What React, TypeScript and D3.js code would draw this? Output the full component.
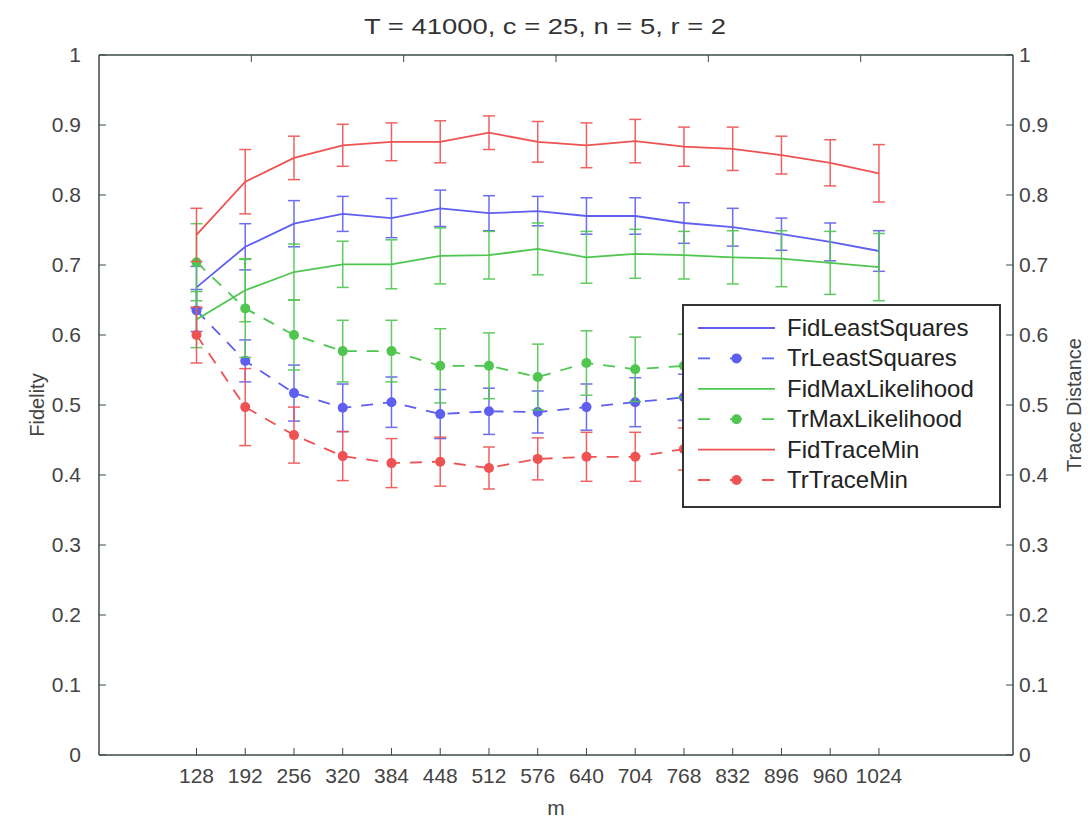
import React from "react";
import * as d3 from "d3";

const mValues = [128, 192, 256, 320, 384, 448, 512, 576, 640, 704, 768, 832, 896, 960, 1024];
const topTicks = [200, 400, 600, 800, 1000];
const yTicks = [0, 0.1, 0.2, 0.3, 0.4, 0.5, 0.6, 0.7, 0.8, 0.9, 1];

const fidLS = [0.668, 0.726, 0.759, 0.773, 0.767, 0.781, 0.774, 0.777, 0.770, 0.770, 0.760, 0.754, 0.744, 0.733, 0.720];
const fidLSErr = [0.03, 0.033, 0.033, 0.025, 0.028, 0.026, 0.025, 0.021, 0.026, 0.026, 0.029, 0.027, 0.023, 0.027, 0.029];
const trLS = [0.635, 0.563, 0.517, 0.496, 0.504, 0.487, 0.491, 0.490, 0.497, 0.504, 0.511, 0.515, 0.52, 0.525, 0.53];
const trLSErr = [0.03, 0.03, 0.04, 0.034, 0.036, 0.035, 0.033, 0.03, 0.033, 0.035, 0.033, 0.033, 0.033, 0.035, 0.035];
const fidML = [0.622, 0.664, 0.690, 0.701, 0.701, 0.713, 0.714, 0.723, 0.711, 0.716, 0.714, 0.711, 0.709, 0.703, 0.697];
const fidMLErr = [0.04, 0.045, 0.04, 0.033, 0.035, 0.04, 0.034, 0.037, 0.037, 0.035, 0.034, 0.038, 0.04, 0.045, 0.048];
const trML = [0.704, 0.638, 0.600, 0.577, 0.577, 0.556, 0.556, 0.540, 0.560, 0.551, 0.556, 0.553, 0.557, 0.56, 0.555];
const trMLErr = [0.055, 0.07, 0.05, 0.044, 0.044, 0.053, 0.047, 0.047, 0.046, 0.046, 0.045, 0.045, 0.045, 0.045, 0.045];
const fidTM = [0.743, 0.819, 0.853, 0.871, 0.876, 0.876, 0.889, 0.876, 0.871, 0.877, 0.869, 0.866, 0.857, 0.846, 0.831];
const fidTMErr = [0.038, 0.046, 0.031, 0.03, 0.027, 0.03, 0.024, 0.029, 0.032, 0.031, 0.028, 0.031, 0.027, 0.033, 0.041];
const trTM = [0.600, 0.497, 0.457, 0.427, 0.417, 0.419, 0.410, 0.423, 0.426, 0.426, 0.437, 0.44, 0.443, 0.447, 0.45];
const trTMErr = [0.04, 0.055, 0.04, 0.035, 0.035, 0.035, 0.03, 0.03, 0.035, 0.035, 0.03, 0.03, 0.03, 0.03, 0.03];

const BLUE = "#5e5ef0";
const GREEN = "#4fc64f";
const RED = "#ef5252";

const seriesList = [
  { name: "FidLeastSquares", vals: fidLS, errs: fidLSErr, color: BLUE, dashed: false },
  { name: "TrLeastSquares", vals: trLS, errs: trLSErr, color: BLUE, dashed: true },
  { name: "FidMaxLikelihood", vals: fidML, errs: fidMLErr, color: GREEN, dashed: false },
  { name: "TrMaxLikelihood", vals: trML, errs: trMLErr, color: GREEN, dashed: true },
  { name: "FidTraceMin", vals: fidTM, errs: fidTMErr, color: RED, dashed: false },
  { name: "TrTraceMin", vals: trTM, errs: trTMErr, color: RED, dashed: true },
];

const W = 1092, H = 821;
const L = 99, R = 1013, T = 55, B = 755;
const FONT = "'Liberation Sans', Arial, Helvetica, sans-serif";
const AX = "#3d4a4a";
const TXT = "#444";

export default function App() {
  const x = d3.scaleLinear().domain([0, 1200]).range([L, R]);
  const y = d3.scaleLinear().domain([0, 1]).range([B, T]);
  const line = d3.line<number>().x((_, i) => x(mValues[i])).y((d) => y(d));
  const cap = 6;

  return (
    <svg width={W} height={H} style={{ position: "absolute", left: 0, top: 0, background: "#fff" }} fontFamily={FONT}>
      <rect x={0} y={0} width={W} height={H} fill="#fff" />
      {seriesList.map((s) => (
        <g key={s.name}>
          {s.vals.map((v, i) => {
            const cx = x(mValues[i]);
            const y1 = y(v + s.errs[i]);
            const y2 = y(v - s.errs[i]);
            return (
              <g key={i} stroke={s.color} strokeWidth={1.5} opacity={0.9}>
                <line x1={cx} x2={cx} y1={y1} y2={y2} />
                <line x1={cx - cap} x2={cx + cap} y1={y1} y2={y1} />
                <line x1={cx - cap} x2={cx + cap} y1={y2} y2={y2} />
              </g>
            );
          })}
          <path d={line(s.vals) || ""} fill="none" stroke={s.color} strokeWidth={1.8}
            strokeDasharray={s.dashed ? "12 10" : undefined} />
          {s.dashed && s.vals.map((v, i) => (
            <circle key={i} cx={x(mValues[i])} cy={y(v)} r={5} fill={s.color} />
          ))}
        </g>
      ))}

      <line x1={L} x2={R} y1={B} y2={B} stroke={AX} strokeWidth={1.5} />
      <line x1={L} x2={R} y1={T} y2={T} stroke={AX} strokeWidth={1.5} />
      <line x1={L} x2={L} y1={T} y2={B} stroke={AX} strokeWidth={1.5} />
      <line x1={R} x2={R} y1={T} y2={B} stroke={AX} strokeWidth={1.5} />

      {mValues.map((m) => (
        <g key={m}>
          <line x1={x(m)} x2={x(m)} y1={B} y2={B - 7} stroke={AX} strokeWidth={1} />
          <text x={x(m)} y={B + 28} textAnchor="middle" fontSize={21} fill={TXT}>{m}</text>
        </g>
      ))}
      {topTicks.map((t) => (
        <line key={t} x1={x(t)} x2={x(t)} y1={T} y2={T + 7} stroke={AX} strokeWidth={1} />
      ))}
      {yTicks.map((t) => (
        <g key={t}>
          <line x1={L} x2={L + 7} y1={y(t)} y2={y(t)} stroke={AX} strokeWidth={1} />
          <line x1={R} x2={R - 7} y1={y(t)} y2={y(t)} stroke={AX} strokeWidth={1} />
          <text x={L - 18} y={y(t) + 7} textAnchor="end" fontSize={21} fill={TXT}>{String(t)}</text>
          <text x={R + 6} y={y(t) + 7} textAnchor="start" fontSize={21} fill={TXT}>{String(t)}</text>
        </g>
      ))}

      <text x={364} y={34} fontSize={22} fill="#333" textLength={362} lengthAdjust="spacingAndGlyphs">T = 41000, c = 25, n = 5, r = 2</text>
      <text x={(L + R) / 2} y={815} textAnchor="middle" fontSize={21} fill={TXT}>m</text>
      <text transform={`translate(44, ${(T + B) / 2}) rotate(-90)`} textAnchor="middle" fontSize={20} fill={TXT}>Fidelity</text>
      <text transform={`translate(1081, ${(T + B) / 2}) rotate(-90)`} textAnchor="middle" fontSize={20} fill={TXT}>Trace Distance</text>

      <g>
        <rect x={683} y={305} width={317} height={202} fill="#fff" stroke="#333" strokeWidth={2} />
        {seriesList.map((s, i) => {
          const ly = 328 + i * 30.4;
          return (
            <g key={s.name}>
              <line x1={698} x2={775} y1={ly} y2={ly} stroke={s.color} strokeWidth={1.8}
                strokeDasharray={s.dashed ? "12 20" : undefined} />
              {s.dashed && <circle cx={736.5} cy={ly} r={5} fill={s.color} />}
              <text x={787} y={ly + 8} fontSize={24} fill="#222">{s.name}</text>
            </g>
          );
        })}
      </g>
    </svg>
  );
}
